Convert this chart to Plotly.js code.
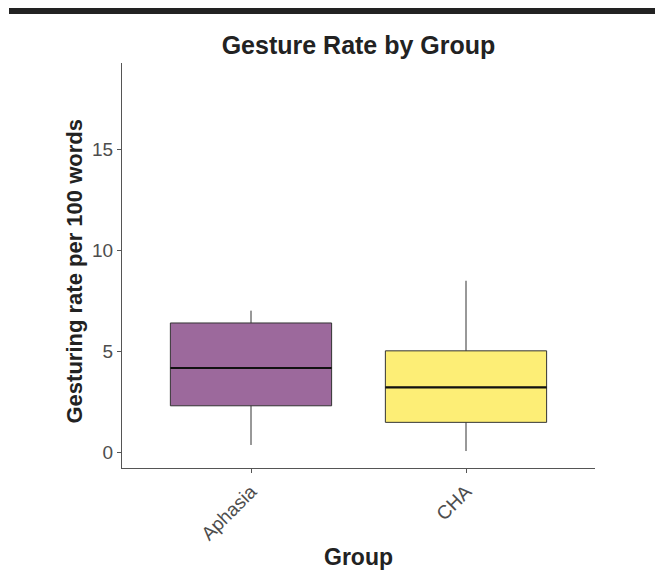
<!DOCTYPE html>
<html>
<head>
<meta charset="utf-8">
<script src="https://cdn.plot.ly/plotly-3.0.1.min.js"></script>
<style>
  html, body { margin: 0; padding: 0; background: #fff; }
  #topbar { position: absolute; left: 9px; top: 8px; width: 646px; height: 6px; background: #222; z-index: 5; }
  #chart { width: 655px; height: 579px; }
</style>
</head>
<body>
<div id="topbar"></div>
<div id="chart"></div>
<script>
// Data
const groups = ["Aphasia", "CHA"];
const lowerWhisker = [0.35, 0.05];
const q1Values = [2.29, 1.47];
const medianValues = [4.16, 3.20];
const q3Values = [6.39, 5.01];
const upperWhisker = [7.00, 8.48];
const fillColors = ["#9C699C", "#FDEE76"];
const yTicks = [0, 5, 10, 15];

const traces = groups.map((g, i) => ({
  type: "box",
  x: [g],
  q1: [q1Values[i]],
  median: [medianValues[i]],
  q3: [q3Values[i]],
  lowerfence: [lowerWhisker[i]],
  upperfence: [upperWhisker[i]],
  fillcolor: fillColors[i],
  line: { color: "#333333", width: 1 },
  whiskerwidth: 0,
  width: 0.75,
  boxpoints: false,
  hoverinfo: "skip",
  showlegend: false
}));

const shapes = groups.map((g, i) => ({
  type: "line", xref: "x", yref: "y",
  x0: i - 0.375, x1: i + 0.375,
  y0: medianValues[i], y1: medianValues[i],
  line: { color: "#111111", width: 2.2 }
}));

const layout = {
  width: 655, height: 579,
  paper_bgcolor: "#ffffff", plot_bgcolor: "#ffffff",
  margin: { l: 122, r: 60, t: 63, b: 111 },
  font: { family: "Liberation Sans, Arial, sans-serif", color: "#4D4D4D" },
  title: {
    text: "<b>Gesture Rate by Group</b>",
    font: { size: 25, color: "#222222", family: "Liberation Sans, Arial, sans-serif" },
    x: (122 + 595) / 2 / 655, xanchor: "center",
    y: 1 - 45 / 579, yanchor: "middle", yref: "container"
  },
  xaxis: {
    type: "category",
    categoryarray: groups,
    range: [-0.6, 1.6],
    showline: true, linecolor: "#555555", linewidth: 1,
    ticks: "outside", ticklen: 4, tickcolor: "#555555",
    tickangle: -45,
    tickfont: { size: 19, color: "#4D4D4D" },
    showgrid: false, zeroline: false,
    title: { text: "<b>Group</b>", font: { size: 23, color: "#222222" }, standoff: 5 }
  },
  yaxis: {
    range: [-0.79, 19.26],
    tickvals: yTicks,
    ticktext: yTicks.map(String),
    showline: true, linecolor: "#555555", linewidth: 1,
    ticks: "outside", ticklen: 4, tickcolor: "#555555",
    tickfont: { size: 19, color: "#4D4D4D" },
    showgrid: false, zeroline: false
  },
  annotations: [{
    text: "<b>Gesturing rate per 100 words</b>",
    font: { size: 22, color: "#222222", family: "Liberation Sans, Arial, sans-serif" },
    textangle: -90,
    xref: "paper", yref: "paper",
    x: (74 - 122) / 473, y: (468 - 271.5) / 405,
    xanchor: "center", yanchor: "middle",
    showarrow: false
  }],
  shapes: shapes
};

Plotly.newPlot("chart", traces, layout, { displayModeBar: false, staticPlot: true });
</script>
</body>
</html>
